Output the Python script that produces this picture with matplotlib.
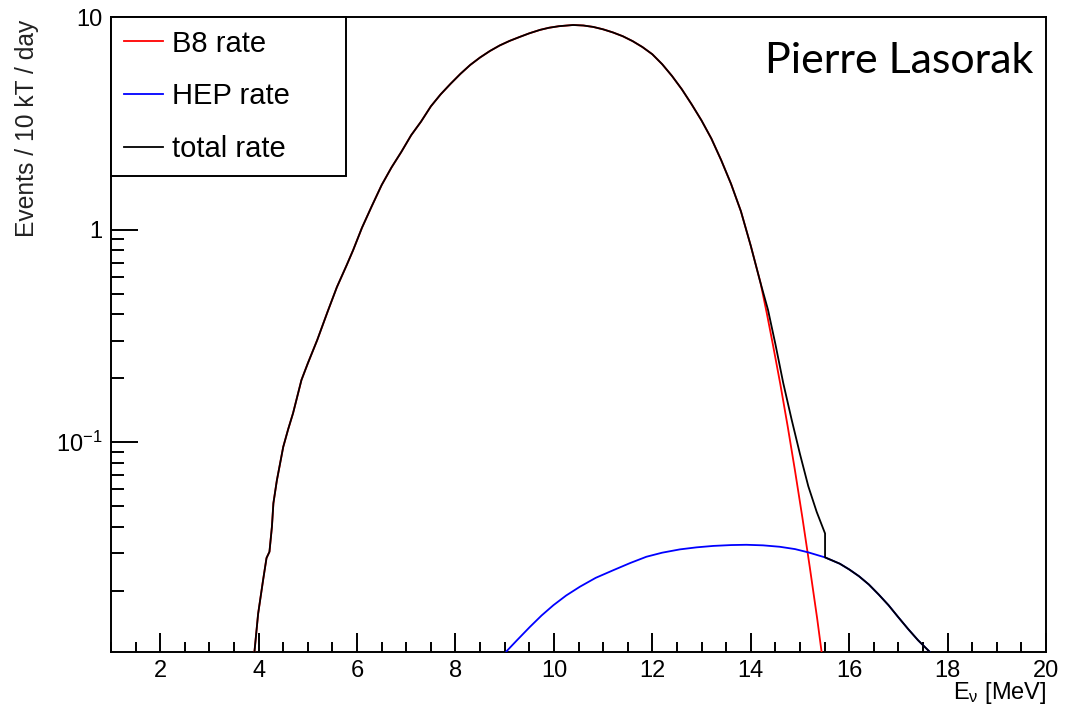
"""
Espectro de neutrinos solares: tasa B8, HEP y total (estilo ROOT)
"""
import matplotlib
matplotlib.use('Agg')
import matplotlib.pyplot as plt
from matplotlib.ticker import MultipleLocator, LogLocator, NullFormatter, FixedLocator, FuncFormatter

plt.rcParams['font.family'] = ['Liberation Sans', 'DejaVu Sans']
plt.rcParams['mathtext.fontset'] = 'custom'
plt.rcParams['mathtext.rm'] = 'Liberation Sans'
plt.rcParams['mathtext.it'] = 'Liberation Sans:italic'

# Datos (E en MeV, eventos / 10 kT / dia)
b8_x = [3.90, 3.99, 4.09, 4.16, 4.22, 4.27, 4.30, 4.37, 4.50, 4.60, 4.70,
        4.87, 5.00, 5.19, 5.40, 5.59, 5.79, 5.92, 6.10, 6.30, 6.50, 6.70,
        6.90, 7.10, 7.30, 7.50, 7.70, 7.90, 8.10, 8.30, 8.50, 8.70, 8.90,
        9.10, 9.30, 9.50, 9.72, 9.90, 10.10, 10.39, 10.60, 10.80, 11.00,
        11.20, 11.40, 11.60, 11.80, 12.00, 12.20, 12.40, 12.60, 12.80,
        13.00, 13.20, 13.40, 13.60, 13.80, 14.00, 14.20, 14.33, 14.45,
        14.60, 14.75, 14.90, 15.05, 15.20, 15.35, 15.44, 15.47]
b8_y = [0.0095, 0.0156, 0.0224, 0.0285, 0.0305, 0.040, 0.0516, 0.066, 0.095,
        0.115, 0.137, 0.196, 0.235, 0.302, 0.41, 0.536, 0.681, 0.80, 1.02,
        1.29, 1.62, 1.96, 2.32, 2.78, 3.22, 3.80, 4.33, 4.85, 5.40, 5.95,
        6.45, 6.92, 7.35, 7.72, 8.05, 8.38, 8.70, 8.90, 9.05, 9.17, 9.12,
        8.98, 8.75, 8.46, 8.12, 7.70, 7.22, 6.68, 6.00, 5.28, 4.57, 3.88,
        3.26, 2.68, 2.12, 1.64, 1.22, 0.84, 0.56, 0.40, 0.288, 0.188, 0.119,
        0.0733, 0.0441, 0.0258, 0.0148, 0.0103, 0.0093]

hep_x = [8.98, 9.04, 9.25, 9.51, 9.75, 9.99, 10.25, 10.53, 10.85, 11.21,
         11.55, 11.88, 12.20, 12.56, 12.90, 13.24, 13.60, 13.91, 14.25,
         14.59, 14.90, 15.17, 15.51, 15.81, 16.00, 16.20, 16.40, 16.60,
         16.80, 17.00, 17.20, 17.40, 17.64, 17.70]
hep_y = [0.0098, 0.0104, 0.0117, 0.0135, 0.0153, 0.0171, 0.0190, 0.0209,
         0.0230, 0.0250, 0.0270, 0.0289, 0.0302, 0.0313, 0.0320, 0.0325,
         0.0328, 0.0329, 0.0327, 0.0322, 0.0314, 0.0303, 0.0287, 0.0268,
         0.0252, 0.0234, 0.0214, 0.0192, 0.0171, 0.0150, 0.0132, 0.0117,
         0.0103, 0.0097]

# total: sigue a B8 hasta ~14.2 MeV, luego su propia cola y el salto en 15.5
total_tail_x = [14.35, 14.50, 14.66, 14.83, 15.00, 15.17, 15.34, 15.51, 15.51]
total_tail_y = [0.42, 0.29, 0.19, 0.128, 0.088, 0.062, 0.047, 0.0372, 0.0287]
n_common = b8_x.index(14.20) + 1
i_hep = hep_x.index(15.81)
total_x = b8_x[:n_common] + total_tail_x + hep_x[i_hep:]
total_y = b8_y[:n_common] + total_tail_y + hep_y[i_hep:]

y_labels = {0.1: r'$10^{-1}$', 1.0: '1', 10.0: '10'}

W, H = 1074, 708
fig = plt.figure(figsize=(W / 100, H / 100), dpi=100)
ax = fig.add_axes([111 / W, 1 - 652 / H, (1046 - 111) / W, (652 - 17) / H])

ax.plot(b8_x, b8_y, color='#ff0000', lw=1.3, label='B8 rate', zorder=3)
ax.plot(hep_x, hep_y, color='#0000ff', lw=1.3, label='HEP rate', zorder=3)
ax.plot(total_x, total_y, color='black', lw=1.3, label='total rate', zorder=4)

ax.set_yscale('log')
ax.set_xlim(1, 20)
ax.set_ylim(0.0103, 10)

ax.xaxis.set_major_locator(MultipleLocator(2))
ax.xaxis.set_minor_locator(MultipleLocator(0.5))
ax.yaxis.set_major_locator(FixedLocator(list(y_labels.keys())))
ax.yaxis.set_major_formatter(FuncFormatter(lambda v, pos: y_labels.get(round(v, 3), '')))
ax.yaxis.set_minor_locator(LogLocator(base=10, subs=range(2, 10)))
ax.yaxis.set_minor_formatter(NullFormatter())

ax.tick_params(axis='x', which='major', direction='in', length=14, width=1.4,
               labelsize=17, pad=6)
ax.tick_params(axis='x', which='minor', direction='in', length=7, width=1.4)
ax.tick_params(axis='y', which='major', direction='in', length=19.5, width=1.4,
               labelsize=17, pad=6)
ax.tick_params(axis='y', which='minor', direction='in', length=9.5, width=1.4)
ax.tick_params(top=False, right=False, which='both')
for sp in ax.spines.values():
    sp.set_linewidth(1.4)

leg = ax.legend(loc='upper left', bbox_to_anchor=(0, 0, 235 / 935, 1), mode='expand',
                borderaxespad=0, fancybox=False, edgecolor='black', framealpha=1,
                fontsize=21, handlelength=1.35, handletextpad=0.3,
                labelspacing=0.85, borderpad=0.43)
leg.get_frame().set_linewidth(1.4)
leg.set_zorder(10)

fig.text(27 / W, 1 - 20 / H, 'Events / 10 kT / day', rotation=90, ha='center',
         va='top', fontsize=17.7, color='#222222')
fig.text(1046 / W, 1 - 706 / H, r'E$_{\mathrm{\nu}}$ [MeV]', ha='right', va='bottom',
         fontsize=17)
fig.text(1033 / W, 1 - 73 / H, 'Pierre Lasorak', ha='right', va='baseline',
         fontsize=31, family=['Lato', 'DejaVu Sans'])

fig.savefig('out.png', dpi=100)
